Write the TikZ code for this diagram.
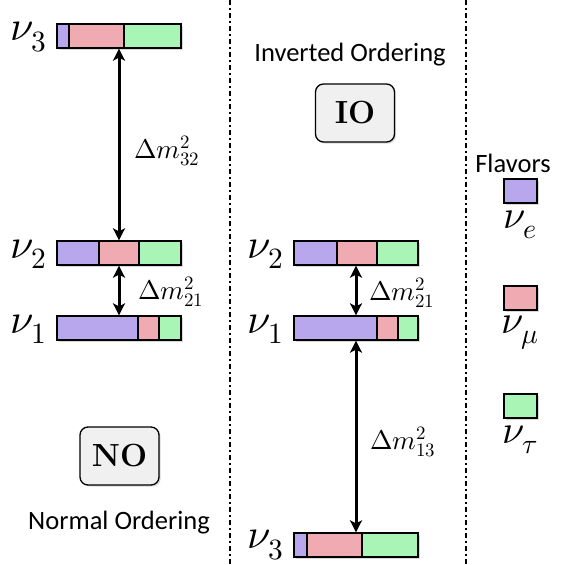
\documentclass[tikz,border=0pt]{standalone}
\usepackage{fontspec}
\usepackage{unicode-math}
\setsansfont{Carlito}
\usetikzlibrary{arrows.meta,shadows}

\definecolor{nue}{HTML}{B9A7EE}
\definecolor{numu}{HTML}{F0AAB1}
\definecolor{nutau}{HTML}{A9F5B5}
\definecolor{tagfill}{HTML}{F0F0F0}

\tikzset{
  softshadow/.style={drop shadow={opacity=0.3, shadow xshift=1.6pt, shadow yshift=-1.6pt}},
  levelbox/.style={draw, line width=1.3pt, fill=white, inner sep=0pt,
    minimum width=124pt, minimum height=24pt, softshadow},
  seg/.style={draw, line width=1.3pt},
  swatch/.style={draw, line width=1.3pt, inner sep=0pt,
    minimum width=33pt, minimum height=24pt, softshadow},
  tagbox/.style={draw, line width=1.3pt, fill=tagfill, rounded corners=8pt,
    minimum width=79pt, minimum height=58pt, inner sep=0pt, softshadow,
    font=\fontsize{32}{34}\selectfont\rmfamily\bfseries},
  statelabel/.style={inner sep=0pt, font=\fontsize{42}{44}\selectfont},
  flavlabel/.style={inner sep=0pt, font=\fontsize{40}{42}\selectfont},
  gaplabel/.style={inner sep=0pt, anchor=west, font=\fontsize{27}{29}\selectfont},
  caption/.style={inner sep=0pt, font=\fontsize{26.5}{28}\selectfont\sffamily},
  gap/.style={line width=3pt, {Stealth[length=12pt,width=12pt,inset=3pt]}-{Stealth[length=12pt,width=12pt,inset=3pt]}},
  divider/.style={line width=1.4pt, dash pattern=on 5pt off 3pt on 2pt off 3pt},
}

% one mass level: name, left x, top y, purple|pink split x, pink|green split x
\newcommand\levelbar[5]{%
  \node[levelbox] (#1) at ({#2+62},{#3+12}) {};
  \draw[seg, fill=nue]   (#2,#3) rectangle (#4,#3+24);
  \draw[seg, fill=numu]  (#4,#3) rectangle (#5,#3+24);
  \draw[seg, fill=nutau] (#5,#3) rectangle (#2+124,#3+24);
}

\begin{document}
\begin{tikzpicture}[x=1pt, y=-1pt]
  \useasboundingbox (0,0) rectangle (560,565);

  % column separators
  \coordinate (sepAtop) at (230,0);
  \coordinate (sepAbot) at (230,565);
  \coordinate (sepBtop) at (466,0);
  \coordinate (sepBbot) at (466,565);
  \draw[divider] (sepAtop) -- (sepAbot);
  \draw[divider] (sepBtop) -- (sepBbot);

  % normal ordering
  \levelbar{no3}{57}{24}{69}{124}
  \levelbar{no2}{57}{241}{99}{139}
  \levelbar{no1}{57}{316}{138}{159}
  \node[statelabel, anchor=east] (no3lab) at (47,37) {$\nu_3$};
  \node[statelabel, anchor=east] (no2lab) at (47,254) {$\nu_2$};
  \node[statelabel, anchor=east] (no1lab) at (47,329) {$\nu_1$};
  \draw[gap] (no2.north) -- (no3.south);
  \draw[gap] (no1.north) -- (no2.south);
  \node[gaplabel] (no32) at (134,151) {$\Delta m^2_{32}$};
  \node[gaplabel] (no21) at (138,292) {$\Delta m^2_{21}$};
  \node[tagbox] (notag) at (119.5,456) {NO};
  \node[caption] (nocap) at (119,523) {Normal Ordering};

  % inverted ordering
  \node[caption] (iocap) at (350,55) {Inverted Ordering};
  \node[tagbox] (iotag) at (355,113) {IO};
  \levelbar{io2}{294}{241}{337}{377}
  \levelbar{io1}{294}{316}{377}{398}
  \levelbar{io3}{294}{533}{307}{362}
  \node[statelabel, anchor=east] (io2lab) at (284,254) {$\nu_2$};
  \node[statelabel, anchor=east] (io1lab) at (284,329) {$\nu_1$};
  \node[statelabel, anchor=east] (io3lab) at (284,545) {$\nu_3$};
  \draw[gap] (io1.north) -- (io2.south);
  \draw[gap] (io1.south) -- (io3.north);
  \node[gaplabel] (io21) at (369,293) {$\Delta m^2_{21}$};
  \node[gaplabel] (io13) at (370,442) {$\Delta m^2_{13}$};

  % flavour legend
  \node[caption] (flavcap) at (513,163) {Flavors};
  \node[swatch, fill=nue]   (sqe)   at (520.5,191) {};
  \node[swatch, fill=numu]  (sqmu)  at (520.5,298) {};
  \node[swatch, fill=nutau] (sqtau) at (520.5,406) {};
  \node[flavlabel] (labe)   at (520,225) {$\nu_e$};
  \node[flavlabel] (labmu)  at (520,333) {$\nu_\mu$};
  \node[flavlabel] (labtau) at (520,440) {$\nu_\tau$};
\end{tikzpicture}
\end{document}
